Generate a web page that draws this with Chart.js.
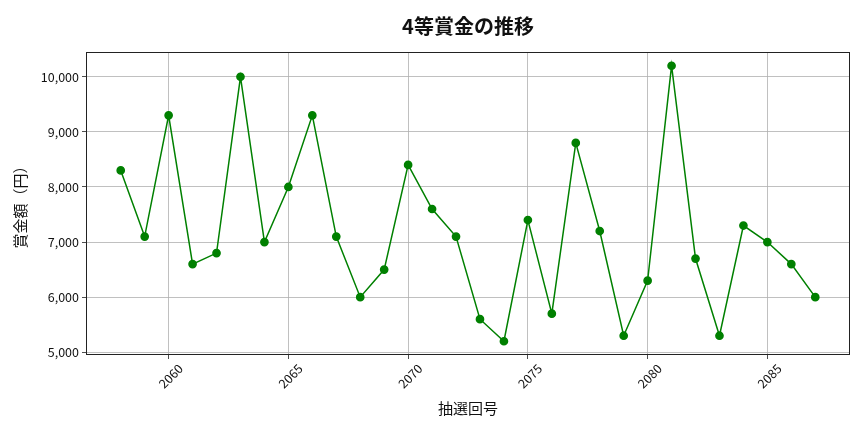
<!DOCTYPE html>
<html>
<head>
<meta charset="utf-8">
<script src="https://cdn.jsdelivr.net/npm/chart.js@4"></script>
<style>
html,body{margin:0;padding:0;background:#fff;}
#wrap{width:864px;height:432px;}
</style>
</head>
<body>
<div id="wrap"><canvas id="c" width="864" height="432"></canvas></div>
<script>
const draws = [2058,2059,2060,2061,2062,2063,2064,2065,2066,2067,2068,2069,2070,2071,2072,2073,2074,2075,2076,2077,2078,2079,2080,2081,2082,2083,2084,2085,2086,2087];
const prizes = [8300,7100,9300,6600,6800,10000,7000,8000,9300,7100,6000,6500,8400,7600,7100,5600,5200,7400,5700,8800,7200,5300,6300,10200,6700,5300,7300,7000,6600,6000];
const xTicks = [2060,2065,2070,2075,2080,2085];
const yTicks = [5000,6000,7000,8000,9000,10000];
const titleText = '4等賞金の推移';
const xTitle = '抽選回号';
const yTitle = '賞金額（円）';

const FONT = '"Noto Sans CJK JP", "Noto Sans", sans-serif';

const frame = {
  id: 'frame',
  afterDatasetsDraw(chart) {
    const {ctx, chartArea: a} = chart;
    ctx.save();
    ctx.strokeStyle = '#222';
    ctx.lineWidth = 1;
    ctx.strokeRect(a.left + 0.5, a.top + 0.5, a.right - a.left - 1, a.bottom - a.top - 1);
    ctx.restore();
  }
};

const centeredTitle = {
  id: 'centeredTitle',
  afterDraw(chart) {
    const {ctx, chartArea: a} = chart;
    ctx.save();
    ctx.fillStyle = '#111';
    ctx.font = 'bold 20px ' + FONT;
    ctx.textAlign = 'center';
    ctx.textBaseline = 'middle';
    ctx.fillText(titleText, (a.left + a.right) / 2, 26);
    ctx.restore();
  }
};

new Chart(document.getElementById('c'), {
  type: 'scatter',
  data: {
    datasets: [{
      data: draws.map((d, i) => ({x: d, y: prizes[i]})),
      showLine: true,
      borderColor: '#008000',
      backgroundColor: '#008000',
      borderWidth: 1.5,
      pointRadius: 3.6,
      pointHoverRadius: 3.6,
      tension: 0
    }]
  },
  plugins: [frame, centeredTitle],
  options: {
    responsive: false,
    animation: false,
    devicePixelRatio: 1,
    layout: {padding: {left: 0, right: 14, top: 52, bottom: 0}},
    plugins: {
      legend: {display: false},
      tooltip: {enabled: false},
      title: {display: false}
    },
    scales: {
      x: {
        type: 'linear',
        min: 2056.55,
        max: 2088.45,
        afterBuildTicks: s => { s.ticks = xTicks.map(v => ({value: v})); },
        afterFit: s => { s.height = 77; },
        grid: {color: '#b0b0b0', lineWidth: 0.8, tickColor: '#222', tickLength: 4, drawTicks: true},
        border: {display: false},
        ticks: {
          color: '#111',
          font: {family: FONT, size: 12.5},
          minRotation: 45, maxRotation: 45,
          labelOffset: 12,
          padding: 2,
          callback: v => String(v)
        },
        title: {
          display: true,
          text: xTitle,
          color: '#111',
          font: {family: FONT, size: 15, lineHeight: 1.2},
          padding: {top: 0, bottom: 15}
        }
      },
      y: {
        type: 'linear',
        min: 4950,
        max: 10450,
        afterBuildTicks: s => { s.ticks = yTicks.map(v => ({value: v})); },
        afterFit: s => { s.width = 86; },
        grid: {color: '#b0b0b0', lineWidth: 0.8, tickColor: '#222', tickLength: 4, drawTicks: true},
        border: {display: false},
        ticks: {
          color: '#111',
          font: {family: FONT, size: 12.5},
          padding: 3,
          callback: v => Number(v).toLocaleString('en-US')
        },
        title: {
          display: true,
          text: yTitle,
          color: '#111',
          font: {family: FONT, size: 15, lineHeight: 1.2},
          padding: {top: 11, bottom: 0}
        }
      }
    }
  }
});
</script>
</body>
</html>
